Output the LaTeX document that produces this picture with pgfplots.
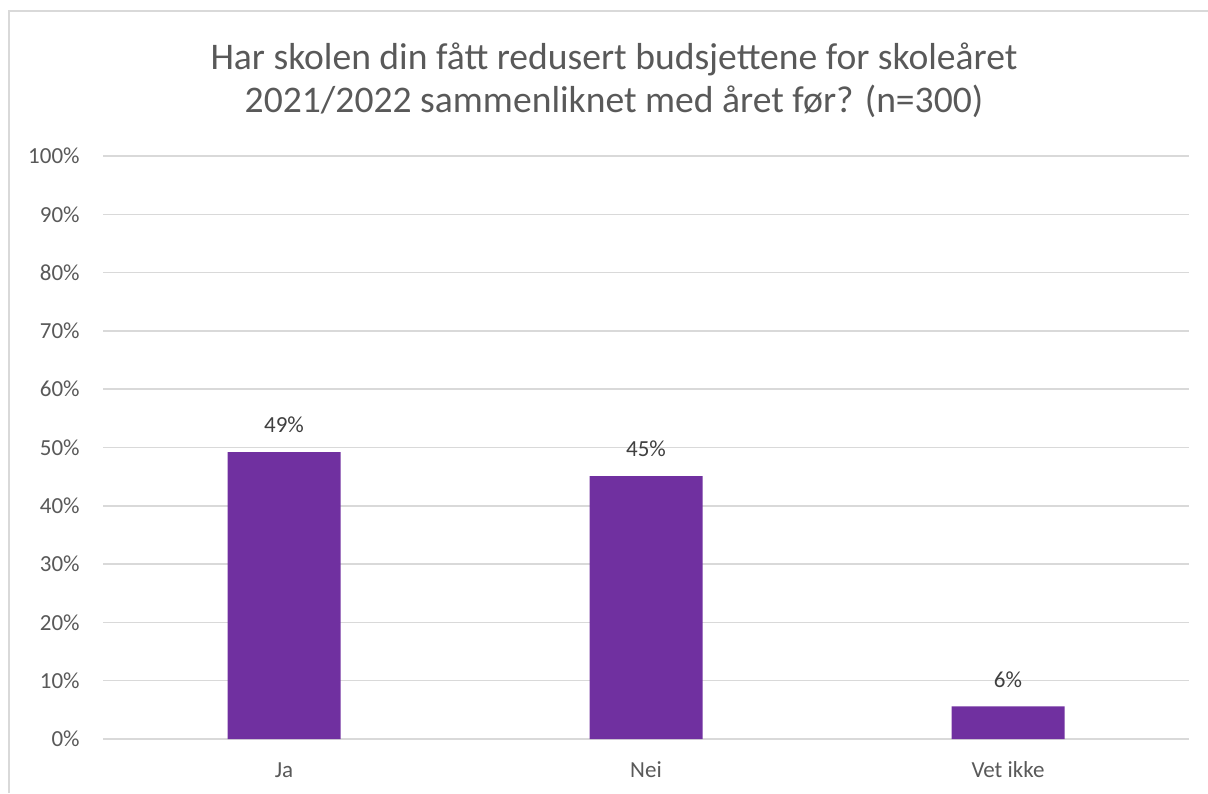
\documentclass[border=0pt]{standalone}
\usepackage{pgfplots}
\pgfplotsset{compat=1.18}
\usepackage{fontspec}
\setmainfont{Carlito}
\definecolor{barpurple}{HTML}{7030A0}
\definecolor{gridgray}{HTML}{D9D9D9}
\definecolor{txtgray}{HTML}{595959}
\definecolor{lblgray}{HTML}{404040}
\begin{document}
\begin{tikzpicture}
% 1 px of the reference = 0.5pt
\useasboundingbox (0,0) rectangle (604pt,396.5pt);
\draw[gridgray, line width=0.8pt] (4.5pt,0) -- (4.5pt,391pt) -- (604pt,391pt);
\node[align=center, text=txtgray, font=\fontsize{18.8}{21.5}\selectfont] at (307pt,356.5pt)
  {Har skolen din fått redusert budsjettene for skoleåret\\2021/2022 sammenliknet med året før? (n=300)};
\begin{axis}[
  at={(51.5pt,27pt)}, anchor=south west,
  scale only axis, width=543pt, height=291.5pt,
  xmin=-0.5, xmax=2.5, ymin=0, ymax=100,
  ytick={0,10,...,100},
  yticklabel={\pgfmathprintnumber{\tick}\%},
  xtick={0,1,2}, xticklabels={Ja,Nei,Vet ikke},
  axis line style={draw=none},
  major tick length=0pt,
  ymajorgrids, grid style={gridgray, line width=0.7pt},
  tick label style={text=txtgray, font=\fontsize{11.5}{13}\selectfont},
  /pgf/number format/assume math mode=true,
  yticklabel style={inner sep=0pt, anchor=east, xshift=-11.5pt},
  xticklabel style={inner sep=0pt, anchor=center, yshift=-15.5pt},
  ybar, bar width=56.5pt,
  nodes near coords,
  point meta=explicit symbolic,
  every node near coord/.append style={anchor=center, yshift=13.5pt, text=lblgray, font=\fontsize{11.5}{13}\selectfont, inner sep=0pt},
  clip=false,
]
\addplot[fill=barpurple, draw=none] coordinates {(0,49.2) [49\%] (1,45.1) [45\%] (2,5.6) [6\%]};
\end{axis}
\end{tikzpicture}
\end{document}
